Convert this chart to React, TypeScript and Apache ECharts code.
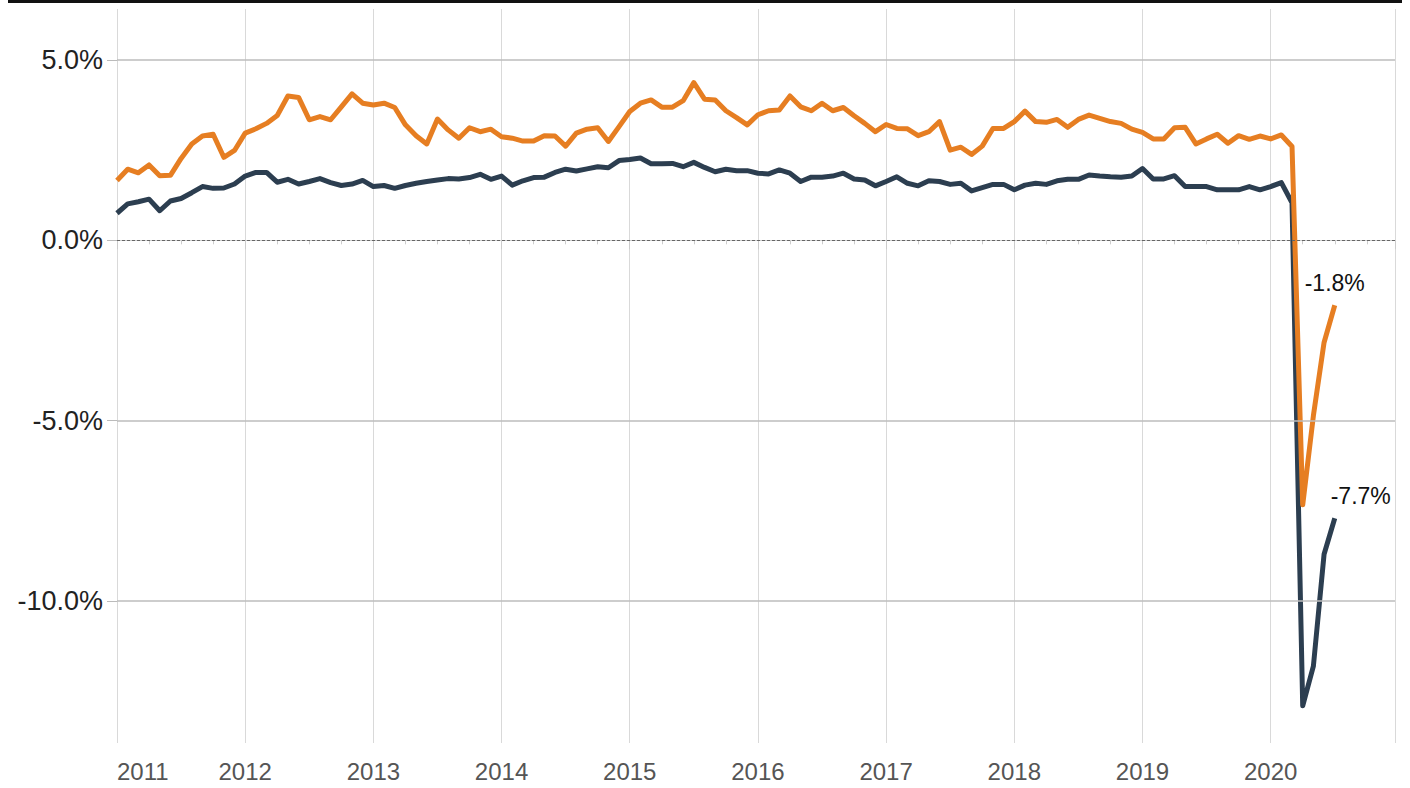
import React, { useEffect, useRef } from "react";
import * as echarts from "echarts";

// Monthly values, Jan 2011 .. Jul 2020
const START_YEAR = 2011;
const yearTicks = [2011, 2012, 2013, 2014, 2015, 2016, 2017, 2018, 2019, 2020];
const yTickValues = [5, 0, -5, -10];

const orangeSeries = [
  1.66, 1.97, 1.87, 2.09, 1.79, 1.8, 2.27, 2.67, 2.89, 2.94, 2.3, 2.49,
  2.97, 3.09, 3.24, 3.46, 4.0, 3.96, 3.34, 3.43, 3.34, 3.7, 4.06, 3.8,
  3.75, 3.8, 3.68, 3.2, 2.9, 2.67, 3.36, 3.06, 2.83, 3.12, 3.01, 3.08,
  2.87, 2.83, 2.75, 2.75, 2.9, 2.89, 2.61, 2.97, 3.08, 3.12, 2.74, 3.15,
  3.57, 3.8, 3.89, 3.69, 3.69, 3.87, 4.37, 3.91, 3.89, 3.59, 3.4, 3.2,
  3.48, 3.59, 3.61, 4.0, 3.7, 3.59, 3.8, 3.59, 3.68, 3.45, 3.24, 3.01,
  3.21, 3.1, 3.09, 2.9, 3.01, 3.29, 2.5, 2.58, 2.38, 2.61, 3.1, 3.1,
  3.29, 3.58, 3.29, 3.27, 3.35, 3.13, 3.35, 3.47, 3.38, 3.29, 3.24, 3.08,
  2.99, 2.81, 2.81, 3.12, 3.13, 2.67, 2.81, 2.94, 2.69, 2.9, 2.8, 2.89,
  2.81, 2.92, 2.6, -7.33, -4.86, -2.83, -1.8,
];

const navySeries = [
  0.75, 1.01, 1.07, 1.14, 0.82, 1.09, 1.16, 1.32, 1.49, 1.44, 1.45, 1.56,
  1.78, 1.88, 1.88, 1.61, 1.69, 1.56, 1.63, 1.71, 1.6, 1.52, 1.56, 1.66,
  1.49, 1.52, 1.44, 1.52, 1.58, 1.63, 1.67, 1.71, 1.7, 1.74, 1.83, 1.69,
  1.78, 1.53, 1.65, 1.74, 1.75, 1.88, 1.97, 1.92, 1.98, 2.04, 2.01, 2.21,
  2.24, 2.28, 2.12, 2.12, 2.13, 2.04, 2.16, 2.02, 1.9, 1.97, 1.93, 1.93,
  1.86, 1.84, 1.95, 1.86, 1.63, 1.75, 1.75, 1.78, 1.86, 1.7, 1.67, 1.51,
  1.63, 1.76, 1.58, 1.51, 1.65, 1.63, 1.55, 1.58, 1.37, 1.46, 1.55, 1.55,
  1.4, 1.53, 1.58, 1.55, 1.65, 1.69, 1.69, 1.81, 1.78, 1.76, 1.75, 1.78,
  1.99, 1.7, 1.7, 1.79, 1.49, 1.49, 1.49, 1.4, 1.4, 1.4, 1.49, 1.4,
  1.49, 1.6, 1.04, -12.9, -11.8, -8.7, -7.7,
];

const ORANGE = "#e67e22";
const NAVY = "#2c3e50";

const fmtPct = (v: number) => `${v.toFixed(1)}%`;

const toPoints = (values: number[]) => values.map((v, i) => [START_YEAR + i / 12, v]);

function endMark(values: number[], offset: number[]) {
  const i = values.length - 1;
  const v = values[i];
  return {
    silent: true,
    animation: false,
    symbol: "circle",
    symbolSize: 1,
    itemStyle: { color: "rgba(0,0,0,0)" },
    label: {
      show: true,
      position: "top",
      distance: 10,
      offset,
      formatter: () => fmtPct(v),
      fontSize: 23,
      color: "#111111",
      fontFamily: "Liberation Sans, Arial, sans-serif",
    },
    data: [{ coord: [START_YEAR + i / 12, v] }],
  };
}

export default function App() {
  const ref = useRef<HTMLDivElement>(null);

  useEffect(() => {
    document.body.style.margin = "0";
    if (!ref.current) return;
    const chart = echarts.init(ref.current, undefined, { renderer: "svg" });
    chart.setOption({
      animation: false,
      backgroundColor: "#ffffff",
      grid: { left: 117, right: 15, top: 9, bottom: 45, containLabel: false },
      graphic: [
        {
          type: "rect",
          shape: { x: 8, y: 0, width: 1394, height: 3 },
          style: { fill: "#111111" },
          silent: true,
        },
      ],
      xAxis: {
        type: "value",
        min: 2011,
        max: 2020.97,
        interval: 1,
        axisLine: { show: true, lineStyle: { color: "#cccccc", width: 1 } },
        axisTick: { show: true, length: 9, lineStyle: { color: "#cccccc" } },
        minorTick: { show: true, splitNumber: 4, length: 4, lineStyle: { color: "#cccccc" } },
        splitLine: { show: true, lineStyle: { color: "#d9d9d9", width: 1 } },
        axisLabel: {
          show: true,
          margin: 16,
          fontSize: 24,
          color: "#555555",
          fontFamily: "Liberation Sans, Arial, sans-serif",
          alignMinLabel: "left",
          formatter: (v: number) =>
            yearTicks.includes(Math.round(v * 1000) / 1000) ? String(Math.round(v)) : "",
        },
      },
      yAxis: {
        type: "value",
        min: -13.93,
        max: 6.41,
        axisLine: { show: false },
        splitLine: { show: false },
        axisTick: {
          show: true,
          customValues: yTickValues,
          length: 10,
          lineStyle: { color: "#bbbbbb" },
        },
        axisLabel: {
          show: true,
          customValues: yTickValues,
          margin: 14,
          fontSize: 27,
          color: "#222222",
          fontFamily: "Liberation Sans, Arial, sans-serif",
          formatter: (v: number) => fmtPct(v),
        },
      },
      series: [
        {
          name: "gridlines",
          type: "line",
          data: [],
          silent: true,
          z: 1,
          markLine: {
            silent: true,
            symbol: ["none", "none"],
            label: { show: false },
            animation: false,
            data: [
              { yAxis: 5, lineStyle: { color: "#bdbdbd", width: 1.5, type: "solid" } },
              { yAxis: -5, lineStyle: { color: "#bdbdbd", width: 1.5, type: "solid" } },
              { yAxis: -10, lineStyle: { color: "#bdbdbd", width: 1.5, type: "solid" } },
              { yAxis: 0, lineStyle: { color: "#666666", width: 1, type: [3, 2] } },
            ],
          },
        },
        {
          name: "Navy",
          type: "line",
          z: 3,
          showSymbol: false,
          symbol: "none",
          lineStyle: { color: NAVY, width: 5, join: "round" },
          itemStyle: { color: NAVY },
          data: toPoints(navySeries),
          markPoint: endMark(navySeries, [26, 0]),
        },
        {
          name: "Orange",
          type: "line",
          z: 4,
          showSymbol: false,
          symbol: "none",
          lineStyle: { color: ORANGE, width: 5, join: "round" },
          itemStyle: { color: ORANGE },
          data: toPoints(orangeSeries),
          markPoint: endMark(orangeSeries, [0, 0]),
        },
      ],
    });
    return () => chart.dispose();
  }, []);

  return <div ref={ref} style={{ width: 1410, height: 788 }} />;
}
